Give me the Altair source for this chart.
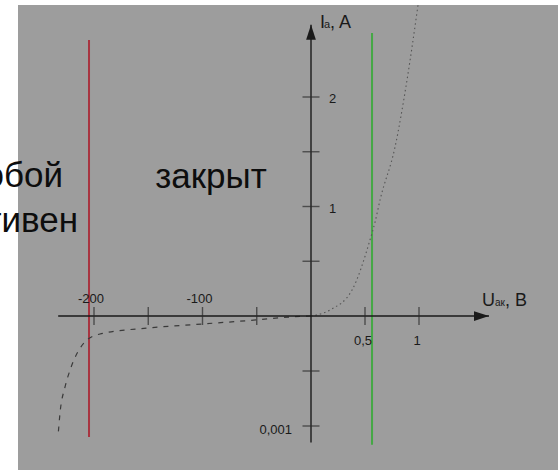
import altair as alt
import pandas as pd

FONT = "Liberation Sans"
INK = "#1a1a1a"

# Diode I-V characteristic, forward branch (V, A)
fwd_v = [0, 0.176, 0.38, 0.546, 0.593, 0.639, 0.778, 0.889, 0.991]
fwd_i = [0, 0.055, 0.237, 0.694, 0.858, 1.059, 1.543, 2.155, 2.84]

# Reverse branch with breakdown (V, A)
rev_v = [0, -19.4, -50.7, -100.5, -150.2, -194.5, -206.5, -222, -226.7, -231.3, -233.2]
rev_i = [0, -0.000009, -0.000036, -0.000073, -0.000109, -0.000164,
         -0.000218, -0.00049, -0.000645, -0.00088, -0.0011]

# Region boundaries: breakdown voltage and opening voltage
bound_v = [-204.6, 0.565]
bound_top = [2.52, 2.585]
bound_bot = [-0.0011, -0.00117]
bound_color = ["#a83440", "#45a845"]

# Axis extents (arrow tips)
axis_x = [-233.0, 1.648]
axis_y = [-0.00115, 2.66]

# Tick marks and their labels
x_ticks = [-200, -150, -100, -50, 0.5, 1]
x_neg_lab_v = [-200, -100]
x_neg_lab = ["-200", "-100"]
x_pos_lab_v = [0.5, 1]
x_pos_lab = ["0,5", "1"]
y_ticks = [2, 1.5, 1, 0.5, -0.0005, -0.001]
y_pos_lab_i = [2, 1]
y_pos_lab = ["2", "1"]
y_neg_lab_i = [-0.001]
y_neg_lab = ["0,001"]

# Region captions
cap_text = ["Пробой", "Активен", "закрыт"]
cap_v = [-228.6, -214.7, -92.2]
cap_i = [1.18, 0.767, 1.17]
cap_align = ["right", "right", "center"]

# Piecewise scales: volts on the left and right of zero, amps and milliamps above/below
xs = alt.Scale(domain=[-200, 0, 1], range=[76, 293, 401], nice=False, zero=False)
ys = alt.Scale(domain=[-0.001, 0, 2], range=[421, 311, 92], nice=False, zero=False)


def X(f):
    return alt.X(f, type="quantitative", scale=xs, axis=None)


def Y(f):
    return alt.Y(f, type="quantitative", scale=ys, axis=None)


def text_layer(df, **kw):
    base = dict(font=FONT, color=INK, baseline="alphabetic")
    base.update(kw)
    return alt.Chart(df).mark_text(**base).encode(x=X("x"), y=Y("y"), text="t:N")


# Boundary lines
bounds = alt.Chart(pd.DataFrame({"v": bound_v, "top": bound_top, "bot": bound_bot,
                                 "c": bound_color})).mark_rule(strokeWidth=2).encode(
    x=X("v"), y=Y("bot"), y2=alt.Y2("top"), color=alt.Color("c:N", scale=None))

# Axes
x_axis = alt.Chart(pd.DataFrame({"x": [axis_x[0]], "x2": [axis_x[1]], "y": [0]})).mark_rule(
    color=INK, strokeWidth=1.4).encode(x=X("x"), x2=alt.X2("x2"), y=Y("y"))
y_axis = alt.Chart(pd.DataFrame({"x": [0], "y": [axis_y[0]], "y2": [axis_y[1]]})).mark_rule(
    color=INK, strokeWidth=1.4).encode(x=X("x"), y=Y("y"), y2=alt.Y2("y2"))

arrow_r = alt.Chart(pd.DataFrame({"x": [axis_x[1]], "y": [0]})).mark_point(
    shape="M0,0L-2,-0.65L-2,0.65Z", filled=True, opacity=1, color=INK, size=225).encode(
    x=X("x"), y=Y("y"))
arrow_u = alt.Chart(pd.DataFrame({"x": [0], "y": [axis_y[1]]})).mark_point(
    shape="M0,0L-0.65,2L0.65,2Z", filled=True, opacity=1, color=INK, size=225).encode(
    x=X("x"), y=Y("y"))

# Ticks
xt = alt.Chart(pd.DataFrame({"x": x_ticks, "y": [0] * len(x_ticks)})).mark_tick(
    orient="vertical", size=18, thickness=1.4, color="#2a2a2a").encode(x=X("x"), y=Y("y"))
yt = alt.Chart(pd.DataFrame({"x": [0] * len(y_ticks), "y": y_ticks})).mark_tick(
    orient="horizontal", size=17, thickness=1.4, color="#2a2a2a").encode(x=X("x"), y=Y("y"))

# Tick labels
xl_neg = text_layer(pd.DataFrame({"x": x_neg_lab_v, "y": [0, 0], "t": x_neg_lab}),
                    fontSize=13, align="center", dx=-3, dy=-13)
xl_pos = text_layer(pd.DataFrame({"x": x_pos_lab_v, "y": [0, 0], "t": x_pos_lab}),
                    fontSize=13, align="center", dx=-2, dy=29)
yl_pos = text_layer(pd.DataFrame({"x": [0, 0], "y": y_pos_lab_i, "t": y_pos_lab}),
                    fontSize=13, align="left", baseline="middle", dx=18, dy=2)
yl_neg = text_layer(pd.DataFrame({"x": [0], "y": y_neg_lab_i, "t": y_neg_lab}),
                    fontSize=13, align="right", baseline="middle", dx=-19, dy=4)

# Axis titles: I with subscript "а", U with subscript "ак"
t_i = text_layer(pd.DataFrame({"x": [0], "y": [axis_y[1]], "t": ["I"]}),
                 fontSize=18, align="left", dx=9, dy=3)
t_i_sub = text_layer(pd.DataFrame({"x": [0], "y": [axis_y[1]], "t": ["а"]}),
                     fontSize=11, align="left", dx=13, dy=3)
t_i_unit = text_layer(pd.DataFrame({"x": [0], "y": [axis_y[1]], "t": [", A"]}),
                      fontSize=18, align="left", dx=19, dy=3)
t_u = text_layer(pd.DataFrame({"x": [axis_x[1]], "y": [0], "t": ["U"]}),
                 fontSize=18, align="left", dx=-7, dy=-10)
t_u_sub = text_layer(pd.DataFrame({"x": [axis_x[1]], "y": [0], "t": ["ак"]}),
                     fontSize=10, align="left", dx=6, dy=-10)
t_u_unit = text_layer(pd.DataFrame({"x": [axis_x[1]], "y": [0], "t": [", B"]}),
                      fontSize=18, align="left", dx=16, dy=-10)

# Characteristic curve
fwd = alt.Chart(pd.DataFrame({"v": fwd_v, "i": fwd_i})).mark_line(
    clip=True, color="#555555", strokeWidth=1.1, strokeDash=[1.5, 3], interpolate="monotone").encode(
    x=X("v"), y=Y("i"), order="v:Q")
rev = alt.Chart(pd.DataFrame({"v": rev_v, "i": rev_i})).mark_line(
    clip=True, color="#3a3a3a", strokeWidth=1.2, strokeDash=[5, 6], interpolate="monotone").encode(
    x=X("v"), y=Y("i"), order=alt.Order("v:Q", sort="descending"))

# Region captions
caps = []
for t, v, i, a in zip(cap_text, cap_v, cap_i, cap_align):
    caps.append(text_layer(pd.DataFrame({"x": [v], "y": [i], "t": [t]}),
                           fontSize=35, align=a, color="#0d0d0d"))

chart = alt.layer(
    bounds, fwd, rev, x_axis, y_axis, arrow_r, arrow_u, xt, yt,
    xl_neg, xl_pos, yl_pos, yl_neg,
    t_i, t_i_sub, t_i_unit, t_u, t_u_sub, t_u_unit, *caps
).properties(
    width=540, height=465,
    padding={"left": 18, "top": 5, "right": 0, "bottom": 0},
    autosize=alt.AutoSizeParams(type="none"),
    background="white",
).configure_view(fill="#9d9d9d", stroke=None)

chart.save("out.html", embed_options={"renderer": "svg", "actions": False})
